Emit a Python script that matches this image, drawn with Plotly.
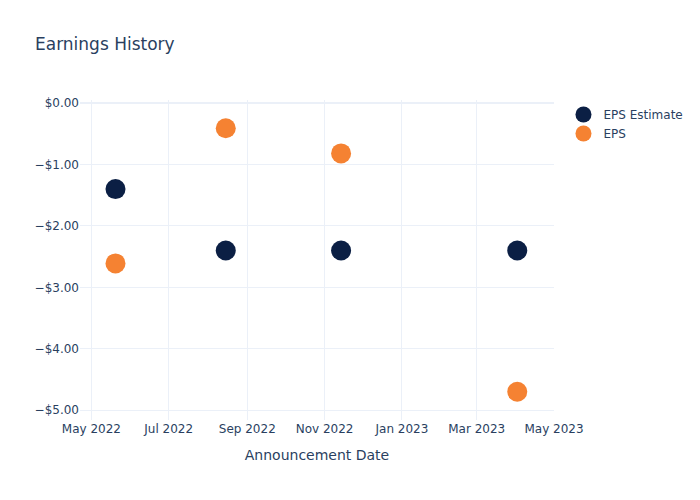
import plotly.graph_objects as go

dates = ["2022-05-20", "2022-08-15", "2022-11-14", "2023-04-02"]
eps_estimate = [-1.40, -2.40, -2.40, -2.40]
eps_actual = [-2.61, -0.41, -0.82, -4.70]

fig = go.Figure()
fig.add_trace(go.Scatter(x=dates, y=eps_estimate, mode="markers", name="EPS Estimate",
                         marker=dict(color="#0b1f44", size=20)))
fig.add_trace(go.Scatter(x=dates, y=eps_actual, mode="markers", name="EPS",
                         marker=dict(color="#f58232", size=20)))
fig.update_layout(
    template="plotly_white",
    font=dict(family="DejaVu Sans"),
    title=dict(text="Earnings History"),
    width=700, height=500,
    xaxis=dict(title=dict(text="Announcement Date"), range=["2022-04-22", "2023-05-01"]),
    yaxis=dict(tickformat="$.2f", range=[-5.16, 0.05]),
)
fig.write_html("out.html")
